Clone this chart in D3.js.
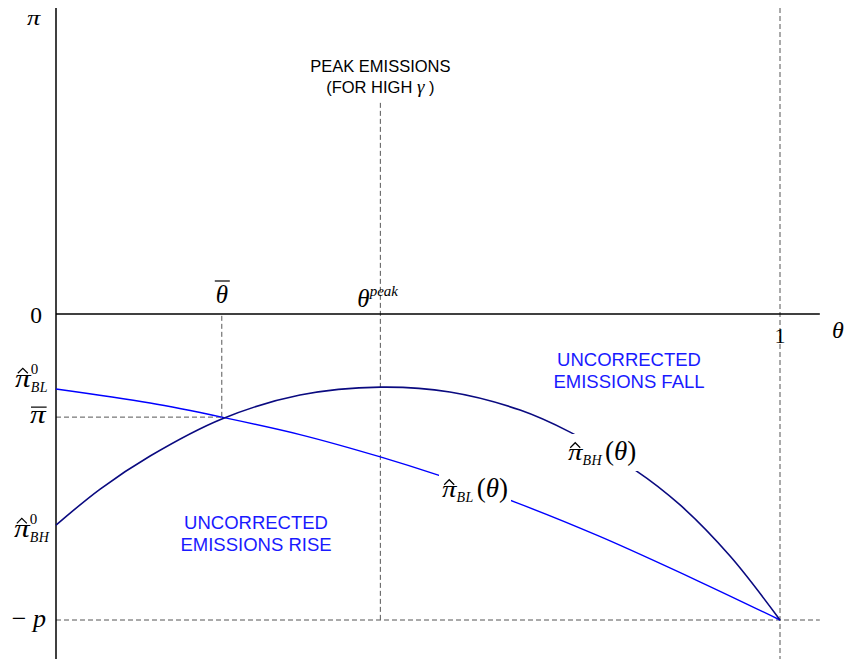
<!DOCTYPE html>
<html>
<head>
<meta charset="utf-8">
<script src="https://cdn.jsdelivr.net/npm/d3@7"></script>
<style>
  html, body { margin: 0; padding: 0; background: #fff; }
  svg { display: block; }
</style>
</head>
<body>
<div id="chart"></div>
<script>
// values (theta in [0,1], pi in units of p)
const thetaBH = [0, 0.061, 0.13, 0.229, 0.337, 0.448, 0.544, 0.641, 0.71, 0.80, 0.862, 0.931, 1];
const piBH = [-0.690, -0.572, -0.464, -0.343, -0.265, -0.239, -0.255, -0.314, -0.386, -0.510, -0.624, -0.791, -1];
const thetaBL = [0, 0.13, 0.229, 0.337, 0.448, 0.527, 0.634, 0.751, 0.89, 1];
const piBL = [-0.245, -0.291, -0.337, -0.394, -0.467, -0.526, -0.615, -0.727, -0.876, -1];

const thetaBar = 0.229;
const piBar = -0.337;
const thetaPeak = 0.448;
const minusP = -1;
const peakTop = 0.69;

const width = 849, height = 659;
const serif = "'Liberation Serif', 'Times New Roman', serif";
const sans = "'Liberation Sans', Arial, sans-serif";
const dash = "5,3";
const dashCol = "#555";

const x = d3.scaleLinear().domain([0, 1]).range([56, 780]);
const y = d3.scaleLinear().domain([0, -1]).range([314, 620]);
const xMax = 1.055, yTop = 1.0, yBot = -1.14;

const svg = d3.select("#chart").append("svg")
  .attr("width", width).attr("height", height);

// dashed guides
const guides = [
  [thetaBar, -0.006, thetaBar, piBar],
  [0, piBar, thetaBar, piBar],
  [thetaPeak, peakTop, thetaPeak, minusP],
  [0, minusP, xMax, minusP],
  [1, yTop, 1, yBot]
];
svg.append("g").selectAll("line").data(guides).join("line")
  .attr("x1", d => x(d[0])).attr("y1", d => y(d[1]))
  .attr("x2", d => x(d[2])).attr("y2", d => y(d[3]))
  .attr("stroke", dashCol).attr("stroke-width", 1)
  .attr("stroke-dasharray", dash);

// axes
svg.append("line")
  .attr("x1", x(0)).attr("x2", x(0)).attr("y1", y(yTop)).attr("y2", y(yBot))
  .attr("stroke", "#000").attr("stroke-width", 1.5);
svg.append("line")
  .attr("x1", x(0)).attr("x2", x(xMax)).attr("y1", y(0)).attr("y2", y(0))
  .attr("stroke", "#000").attr("stroke-width", 1.5);

// curves
const line = d3.line().x(d => x(d[0])).y(d => y(d[1])).curve(d3.curveCatmullRom.alpha(0.5));
svg.append("path")
  .datum(d3.zip(thetaBL, piBL))
  .attr("d", line).attr("fill", "none")
  .attr("stroke", "#0000ff").attr("stroke-width", 1.4);
svg.append("path")
  .datum(d3.zip(thetaBH, piBH))
  .attr("d", line).attr("fill", "none")
  .attr("stroke", "#0a0a80").attr("stroke-width", 1.6);

// a wide italic pi (symbol-font look)
function piGlyph(g, px, py, fs, sx) {
  const t = g.append("text")
    .attr("transform", `translate(${px},${py}) scale(${sx},1)`)
    .attr("font-family", serif).attr("font-size", fs).attr("font-style", "italic")
    .text("\u03C0");
  return t.node().getComputedTextLength() * sx;
}
function hat(g, cx, ty) {
  g.append("path")
    .attr("d", `M${cx - 5},${ty + 5} L${cx},${ty} L${cx + 5},${ty + 5}`)
    .attr("fill", "none").attr("stroke", "#000").attr("stroke-width", 1.2);
}
function bar(g, x1, x2, yy) {
  g.append("line").attr("x1", x1).attr("x2", x2).attr("y1", yy).attr("y2", yy)
    .attr("stroke", "#000").attr("stroke-width", 1.2);
}

// pi-hat label: o = {fs, sx, sup, sub, tail}
function mathLabel(g, px, py, o) {
  const w = piGlyph(g, px, py, o.fs, o.sx);
  hat(g, px + w * 0.5, py - o.fs * 0.72);
  let right = px + w;
  if (o.sup) {
    g.append("text").attr("x", px + w).attr("y", py - o.fs * 0.5)
      .attr("font-family", serif).attr("font-size", 15).text(o.sup);
  }
  if (o.sub) {
    const s = g.append("text").attr("x", px + w).attr("y", py + 5)
      .attr("font-family", serif).attr("font-size", 14).attr("font-style", "italic")
      .attr("letter-spacing", 0.5).text(o.sub);
    right = px + w + s.node().getComputedTextLength() + 1;
  }
  if (o.tail) {
    g.append("text").attr("x", right + 2).attr("y", py)
      .attr("font-family", serif).attr("font-size", 27)
      .call(t => {
        t.append("tspan").text("(");
        t.append("tspan").attr("font-style", "italic").text("\u03B8");
        t.append("tspan").text(")");
      });
  }
}

// label with white backing to break the curve
function curveLabel(px, py, sub) {
  const g = svg.append("g");
  const bg = g.append("rect").attr("fill", "#fff");
  mathLabel(g, px, py, { fs: 24, sx: 1.2, sub: sub, tail: true });
  const b = g.node().getBBox();
  bg.attr("x", b.x - 3).attr("y", b.y - 2).attr("width", b.width + 6).attr("height", b.height + 5);
}
curveLabel(442, 497, "BL");
curveLabel(568, 460, "BH");

// left-side labels
mathLabel(svg, 15, y(piBL[0]) - 2, { fs: 26, sx: 1.2, sup: "0", sub: "BL" });
mathLabel(svg, 14, y(piBH[0]) + 12, { fs: 26, sx: 1.2, sup: "0", sub: "BH" });

{
  const w = piGlyph(svg, 30, y(piBar) + 6, 26, 1.2);
  bar(svg, 31, 31 + w, y(piBar) - 10);
}

svg.append("text").attr("x", 46).attr("y", y(minusP) + 7).attr("text-anchor", "end")
  .attr("font-family", serif).attr("font-size", 26)
  .call(t => {
    t.append("tspan").text("\u2212 ");
    t.append("tspan").attr("font-style", "italic").text("p");
  });

svg.append("text").attr("x", 42).attr("y", y(0) + 9).attr("text-anchor", "end")
  .attr("font-family", serif).attr("font-size", 23.5).text("0");
piGlyph(svg, 27, 25, 22, 1.2);

// x-side labels
svg.append("text").attr("x", x(1)).attr("y", y(0) + 29).attr("text-anchor", "middle")
  .attr("font-family", serif).attr("font-size", 22).text("1");
svg.append("text").attr("x", 838).attr("y", y(0) + 24).attr("text-anchor", "middle")
  .attr("font-family", serif).attr("font-size", 24).attr("font-style", "italic").text("\u03B8");

svg.append("text").attr("x", x(thetaBar)).attr("y", y(0) - 11).attr("text-anchor", "middle")
  .attr("font-family", serif).attr("font-size", 25).attr("font-style", "italic").text("\u03B8");
bar(svg, x(thetaBar) - 7, x(thetaBar) + 8, y(0) - 33);

svg.append("text").attr("x", x(thetaPeak) - 23).attr("y", y(0) - 7)
  .attr("font-family", serif).attr("font-size", 25).attr("font-style", "italic")
  .call(t => {
    t.append("tspan").text("\u03B8");
    t.append("tspan").attr("font-size", 15).attr("dy", -11).text("peak");
  });

// peak emissions note
const note = svg.append("g").attr("font-family", sans).attr("font-size", 16.5)
  .attr("text-anchor", "middle").attr("fill", "#000");
note.append("text").attr("x", x(thetaPeak)).attr("y", 72).text("PEAK EMISSIONS");
note.append("text").attr("x", x(thetaPeak)).attr("y", 93)
  .call(t => {
    t.append("tspan").text("(FOR HIGH ");
    t.append("tspan").attr("font-family", serif).attr("font-style", "italic")
      .attr("font-size", 19).text("\u03B3");
    t.append("tspan").text(" )");
  });

// region notes
const blue = "#1a1aff";
function regionNote(cx, cy, lines) {
  svg.append("g").attr("font-family", sans).attr("font-size", 18.5)
    .attr("text-anchor", "middle").attr("fill", blue)
    .selectAll("text").data(lines).join("text")
    .attr("x", cx).attr("y", (d, i) => cy + i * 22).text(d => d);
}
regionNote(629, 366, ["UNCORRECTED", "EMISSIONS FALL"]);
regionNote(256, 529, ["UNCORRECTED", "EMISSIONS RISE"]);
</script>
</body>
</html>
